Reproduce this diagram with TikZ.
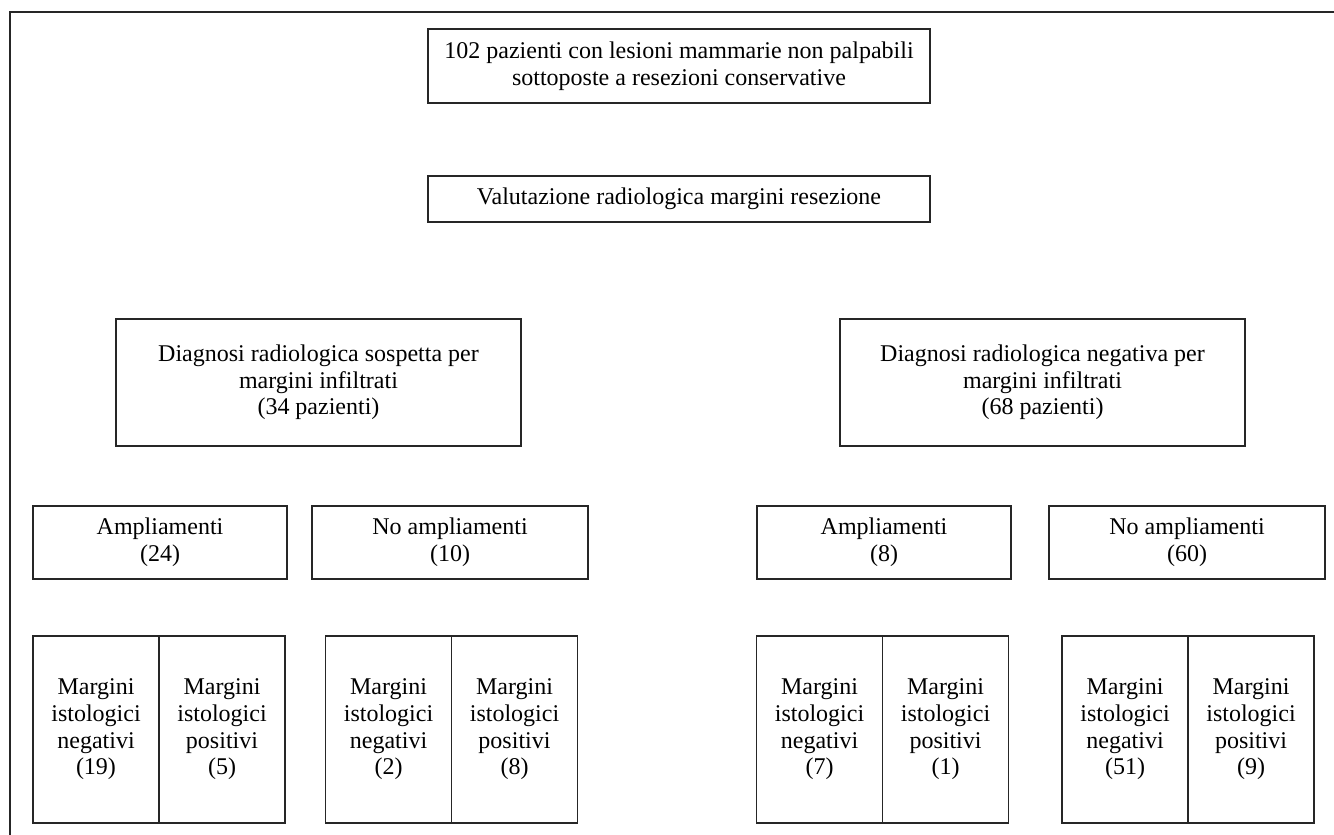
\documentclass[tikz,border=0pt]{standalone}
\usepackage{fontspec}
\setmainfont{Liberation Serif}
\usetikzlibrary{positioning}

\tikzset{
  box/.style={draw=black!85, line width=0.6pt, align=center, inner sep=0pt,
    outer sep=0pt, font=\fontsize{12}{13.35}\selectfont},
  headbox/.style={box, minimum width=251pt, minimum height=37pt},
  diagbox/.style={box, minimum width=202.5pt, minimum height=63.5pt},
  ampbox/.style={box, minimum width=127pt, minimum height=36.5pt},
  noampbox/.style={box, minimum width=138pt, minimum height=36.5pt},
  halfbox/.style={box, minimum width=63pt, minimum height=93.5pt}
}

\begin{document}
\begin{tikzpicture}[x=0.5pt, y=-0.5pt]
        \useasboundingbox (0,0) rectangle (1334,835);

        % -- frame: top and left edge only --
        \draw[black!85, line width=0.8pt] (1334,12) -- (10,12) -- (10,835);

        % -- header boxes --
        \node[headbox] (start) at (679,66)
            {102 pazienti con lesioni mammarie non palpabili\\sottoposte a resezioni conservative};
        \node[headbox, minimum height=23pt] (valut) at (679,199)
            {Valutazione radiologica margini resezione};

        % -- radiological diagnosis --
        \node[diagbox] (sosp) at (318.5,382.5)
            {Diagnosi radiologica sospetta per\\margini infiltrati\\(34 pazienti)};
        \node[diagbox] (negat) at (1042.5,382.5)
            {Diagnosi radiologica negativa per\\margini infiltrati\\(68 pazienti)};

        % -- re-excisions --
        \node[ampbox]   (ampA) at (160,542.5)  {Ampliamenti\\(24)};
        \node[noampbox] (noA)  at (450,542.5)  {No ampliamenti\\(10)};
        \node[ampbox]   (ampB) at (884,542.5)  {Ampliamenti\\(8)};
        \node[noampbox] (noB)  at (1187,542.5) {No ampliamenti\\(60)};

        % -- histological margins: pairs of boxes sharing one edge --
        \foreach \cx/\n/\p/\k in {159/19/5/a, 451.5/2/8/b, 882.5/7/1/c, 1188/51/9/d}{
            \node[halfbox] (neg\k) at (\cx-63,729.5)
                {Margini\\istologici\\negativi\\(\n)};
            \node[halfbox, right=0pt of neg\k] (pos\k)
                {Margini\\istologici\\positivi\\(\p)};
        }

    \end{tikzpicture}
\end{document}
